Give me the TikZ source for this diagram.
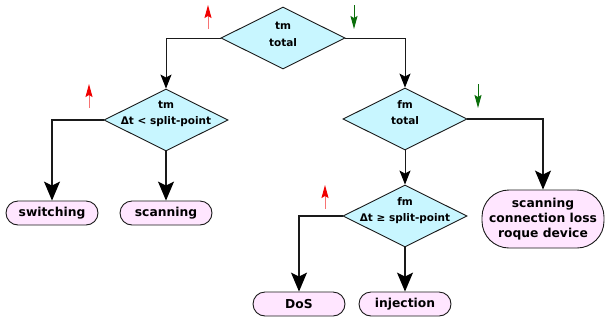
\documentclass[tikz,border=0pt]{standalone}
\usepackage{fontspec}
\setmainfont{DejaVu Sans}
\usetikzlibrary{shapes.geometric,arrows.meta}
\definecolor{dfill}{HTML}{C8F6FF}
\definecolor{lfill}{HTML}{FFE6FF}
\definecolor{edge}{HTML}{1A1A1A}
\definecolor{upred}{HTML}{F00000}
\definecolor{dngreen}{HTML}{0A6E0A}
\tikzset{
  dia/.style={shape=diamond, draw=edge, fill=dfill, line width=0.9bp, inner sep=0pt, minimum width=124bp, minimum height=62bp},
  dtext/.style={anchor=base, inner sep=0pt, font=\bfseries\fontsize{10.5bp}{12bp}\selectfont},
  leaf/.style={draw=edge, fill=lfill, line width=0.9bp, rounded corners=12bp, minimum height=24bp, minimum width=92bp, inner sep=0pt, font=\bfseries\fontsize{12.3bp}{15bp}\selectfont},
  big/.style={draw=edge, fill=lfill, line width=0.9bp, rounded corners=27bp, minimum height=58bp, minimum width=122bp, inner sep=0pt, align=center, font=\bfseries\fontsize{12.3bp}{15bp}\selectfont},
  conn/.style={draw=edge, line width=1bp, -{Stealth[length=14bp,width=11bp,inset=3bp,fill=black,color=black]}},
  connbig/.style={draw=edge, line width=1.3bp, -{Stealth[length=19bp,width=16bp,inset=4bp,fill=black,color=black]}},
  uparr/.style={draw=upred!55, line width=1bp, -{Stealth[length=13bp,width=7bp,inset=2bp,fill=upred,color=upred]}},
  dnarr/.style={draw=dngreen, line width=1bp, -{Stealth[length=13bp,width=7bp,inset=2bp]}},
}
\begin{document}
\begin{tikzpicture}[x=1bp,y=-1bp]
\useasboundingbox (0,0) rectangle (605,320);
% diamonds
\node[dia] (d1) at (283,38) {};
\node[dtext] (d1a) at (283,29) {tm};
\node[dtext] (d1b) at (283,46) {total};
\node[dia] (d2) at (166,120) {};
\node[dtext] (d2a) at (166,108) {tm};
\node[dtext] (d2b) at (166,124) {Δt < split-point};
\node[dia] (d3) at (405,119) {};
\node[dtext] (d3a) at (405,108) {fm};
\node[dtext] (d3b) at (405,124) {total};
\node[dia] (d4) at (405,216) {};
\node[dtext] (d4a) at (405,205) {fm};
\node[dtext] (d4b) at (405,221) {Δt ≥ split-point};
% leaves
\node[leaf] (sw) at (52,213) {switching};
\node[leaf] (sc) at (166,213) {scanning};
\node[leaf] (dos) at (299,304) {DoS};
\node[leaf] (inj) at (405,304) {injection};
\node[big] (bg) at (543,219) {scanning\\connection loss\\roque device};
% connectors
\draw[conn] (d1.west) -| (d2.north);
\draw[conn] (d1.east) -| (d3.north);
\draw[connbig] (d2.west) -| (sw.north);
\draw[connbig] (d2.south) -- (sc.north);
\draw[connbig] (d3.east) -| (bg.north);
\draw[conn] (d3.south) -- (d4.north);
\draw[connbig] (d4.west) -| (dos.north);
\draw[connbig] (d4.south) -- (inj.north);
% trend arrows
\draw[uparr] (208,29) -- (208,5);
\draw[dnarr] (354,5) -- (354,29);
\draw[uparr] (89,108) -- (89,84);
\draw[dnarr] (478,84) -- (478,108);
\draw[uparr] (325,209) -- (325,185);
\end{tikzpicture}
\end{document}
